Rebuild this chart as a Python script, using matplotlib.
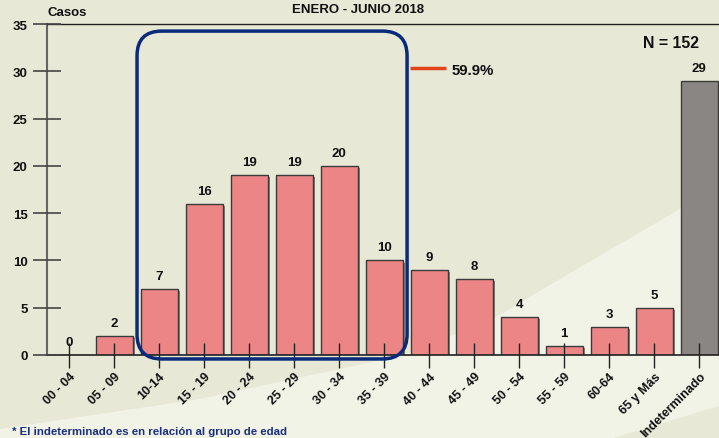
import numpy as np
import matplotlib
matplotlib.use("Agg")
import matplotlib.pyplot as plt
import matplotlib.patheffects as pe
from matplotlib.patches import FancyBboxPatch, Polygon

plt.rcParams['font.family'] = ['Liberation Sans', 'DejaVu Sans']
plt.rcParams['font.weight'] = 'bold'

# data
grupos = ["00 - 04", "05 - 09", "10-14", "15 - 19", "20 - 24", "25 - 29", "30 - 34",
          "35 - 39", "40 - 44", "45 - 49", "50 - 54", "55 - 59", "60-64", "65 y Más",
          "Indeterminado"]
casos = [0, 2, 7, 16, 19, 19, 20, 10, 9, 8, 4, 1, 3, 5, 29]
colores = ["#ec8585"] * 14 + ["#8a8683"]

bg = "#e7e9d6"
fig = plt.figure(figsize=(7.19, 4.39), dpi=100, facecolor=bg)

# lighter swoosh in the background
W, H = 719, 439
def px(pts):
    return [(x / W, 1 - y / H) for x, y in pts]
band = px([(0, 439), (0, 430), (200, 400), (400, 357), (493, 320), (560, 280),
           (680, 210), (719, 185), (719, 407), (613, 439)])
fig.patches.append(Polygon(band, closed=True, transform=fig.transFigure,
                           facecolor="#f2f3e7", edgecolor="none", zorder=-10))

ax = fig.add_axes([47 / W, (H - 356) / H, 1 - 47 / W, (356 - 25) / H])
ax.set_facecolor("none")

x = np.arange(len(grupos))
bars = ax.bar(x, casos, width=0.82, color=colores, edgecolor="#3a3a3a", linewidth=1, zorder=2)
for b in bars:
    b.set_path_effects([pe.SimplePatchShadow(offset=(1.5, -1.5), shadow_rgbFace="#555555", alpha=0.7),
                        pe.Normal()])

for xi, v in zip(x, casos):
    ax.annotate(str(v), (xi, v), xytext=(0, 5), textcoords="offset points",
                ha="center", va="bottom", fontsize=9.5, fontweight="bold", color="#111111")

ax.set_xlim(-0.49, 14.44)
ax.set_ylim(0, 35)
ax.set_yticks(range(0, 36, 5))
ax.set_xticks(x)
ax.set_xticklabels(grupos, rotation=45, ha="right", rotation_mode="anchor",
                   fontsize=9, fontweight="bold", color="#111111")
ax.tick_params(axis="x", direction="inout", length=18, width=1, color="#222222", pad=2)
ax.tick_params(axis="y", direction="inout", length=20, width=1.2, color="#444444",
               labelsize=9.5, pad=4, labelcolor="#111111")
for lab in ax.get_yticklabels():
    lab.set_fontweight("bold")
for t in ax.xaxis.get_major_ticks():
    t.tick1line.set_zorder(5)
ax.set_axisbelow(False)

ax.spines["right"].set_visible(False)
ax.spines["left"].set_color("#666666")
ax.spines["left"].set_linewidth(1.5)
ax.spines["top"].set_color("#222222")
ax.spines["top"].set_linewidth(1)
ax.spines["bottom"].set_color("#222222")
ax.spines["bottom"].set_linewidth(1.2)

# blue rounded box around 10-39
box = FancyBboxPatch((1.51, -0.42), 6.0, 34.67,
                     boxstyle="round,pad=0,rounding_size=0.55",
                     mutation_aspect=4.76,
                     facecolor="none", edgecolor="#0a2a7a", linewidth=2.5,
                     zorder=4, clip_on=False)
ax.add_patch(box)

ax.plot([7.58, 8.38], [30.3, 30.3], color="#e0441a", linewidth=2.5, solid_capstyle="butt",
        zorder=4)
ax.text(8.51, 30.1, "59.9%", fontsize=10.8, fontweight="bold", color="#111111", va="center")
ax.text(14.0, 33.0, "N = 152", fontsize=11.4, fontweight="bold", color="#111111",
        va="center", ha="right")

fig.text(358 / W, 1 - 10 / H, "ENERO - JUNIO 2018", ha="center", va="center",
         fontsize=9.5, fontweight="bold", color="#111111")
fig.text(47 / W, 1 - 13 / H, "Casos", ha="left", va="center",
         fontsize=9.5, fontweight="bold", color="#111111")
fig.text(12 / W, 1 - 432 / H, "* El indeterminado es en relación al grupo de edad",
         ha="left", va="center", fontsize=8.2, fontweight="bold", color="#1a2f80")

fig.savefig("out.png", dpi=100, facecolor=bg)
